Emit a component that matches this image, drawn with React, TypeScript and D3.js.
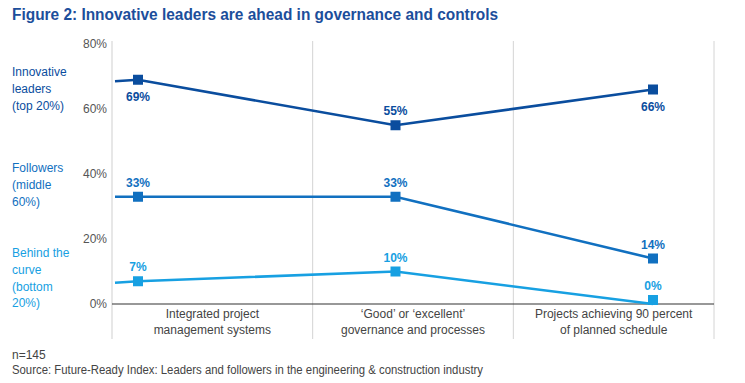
import React from "react";
import * as d3 from "d3";

const categories = [
  ["Integrated project", "management systems"],
  ["\u2018Good\u2019 or \u2018excellent\u2019", "governance and processes"],
  ["Projects achieving 90 percent", "of planned schedule"],
];
const leaders = [69, 55, 66];
const followers = [33, 33, 14];
const behind = [7, 10, 0];
const yTicks = [0, 20, 40, 60, 80];
const seriesNames = [
  ["Innovative", "leaders", "(top 20%)"],
  ["Followers", "(middle", "60%)"],
  ["Behind the", "curve", "(bottom", "20%)"],
];
const leaderLabelSide = ["below", "above", "below"];

const COLORS = ["#0a4d9e", "#1170c0", "#17a0e2"];
const NARROW = "'Liberation Sans', Arial, sans-serif";

export default function App() {
  const W = 745, H = 383;
  const y = d3.scaleLinear().domain([0, 80]).range([304, 44]);
  const idx = [0, 1, 2];
  const x = d3.scalePoint<number>().domain(idx).range([138, 653]);
  const band = d3.scaleBand<number>().domain(idx).range([112, 714]);
  const line = d3.line<[number, number]>().x((d) => d[0]).y((d) => d[1]);
  const allSeries = [leaders, followers, behind];

  return (
    <svg width={W} height={H} style={{ position: "absolute", left: 0, top: 0, background: "#fff" }}>
      <text x={12} y={20} textLength={486} lengthAdjust="spacingAndGlyphs" fontFamily="Liberation Sans, Arial, sans-serif" fontWeight="bold" fontSize={16} fill="#1c4e9b">
        Figure 2: Innovative leaders are ahead in governance and controls
      </text>
      {/* grid */}
      <line x1={112} x2={112} y1={41} y2={339} stroke="#cfcfcf" strokeWidth={1} />
      {idx.map((i) => (
        <line key={i} x1={band(i)! + band.bandwidth()} x2={band(i)! + band.bandwidth()} y1={41} y2={339} stroke="#d4d4d4" strokeWidth={1} />
      ))}
      <line x1={112} x2={714} y1={y(0)} y2={y(0)} stroke="#333" strokeWidth={1.2} />
      {yTicks.map((t) => (
        <text key={t} x={107} y={y(t) + 4} textAnchor="end" fontFamily={NARROW} fontSize={12} fill="#555">
          {t}%
        </text>
      ))}
      {seriesNames.map((lines, s) => {
        const top = [72, 168, 253][s];
        return (
          <text key={s} fontFamily={NARROW} fontSize={12} fill={COLORS[s]}>
            {lines.map((l, k) => (
              <tspan key={k} x={12} y={top + 4 + k * 16.8}>{l}</tspan>
            ))}
          </text>
        );
      })}
      {categories.map((c, i) => (
        <text key={i} textAnchor="middle" fontFamily={NARROW} fontSize={12} fill="#444">
          {c.map((l, k) => (
            <tspan key={k} x={band(i)! + band.bandwidth() / 2} y={318 + k * 15.5}>{l}</tspan>
          ))}
        </text>
      ))}
      {allSeries.map((vals, s) => {
        const pts: [number, number][] = [[115, y(vals[0]) + (s === 0 ? 1.5 : s === 2 ? 1.5 : 0)], ...vals.map((v, i) => [x(i)!, y(v)] as [number, number])];
        return (
          <g key={s}>
            <path d={line(pts)!} fill="none" stroke={COLORS[s]} strokeWidth={2.6} />
            {vals.map((v, i) => (
              <rect key={i} x={x(i)! - 5} y={Math.min(y(v) - 5, 300 - 5)} width={10} height={10} fill={COLORS[s]} />
            ))}
            {vals.map((v, i) => {
              const below = s === 0 && leaderLabelSide[i] === "below";
              const cy = Math.min(y(v), 300);
              return (
                <text key={"l" + i} x={x(i)!} y={below ? cy + 21 : cy - 10} textAnchor="middle" fontFamily="Liberation Sans, Arial, sans-serif" fontWeight="bold" fontSize={12} fill={COLORS[s]}>
                  {v}%
                </text>
              );
            })}
          </g>
        );
      })}
      <text x={12} y={359} fontFamily={NARROW} fontSize={12} fill="#444">n=145</text>
      <text x={12} y={374} textLength={471} lengthAdjust="spacingAndGlyphs" fontFamily={NARROW} fontSize={12} fill="#444">
        Source: Future-Ready Index: Leaders and followers in the engineering &amp; construction industry
      </text>
    </svg>
  );
}
